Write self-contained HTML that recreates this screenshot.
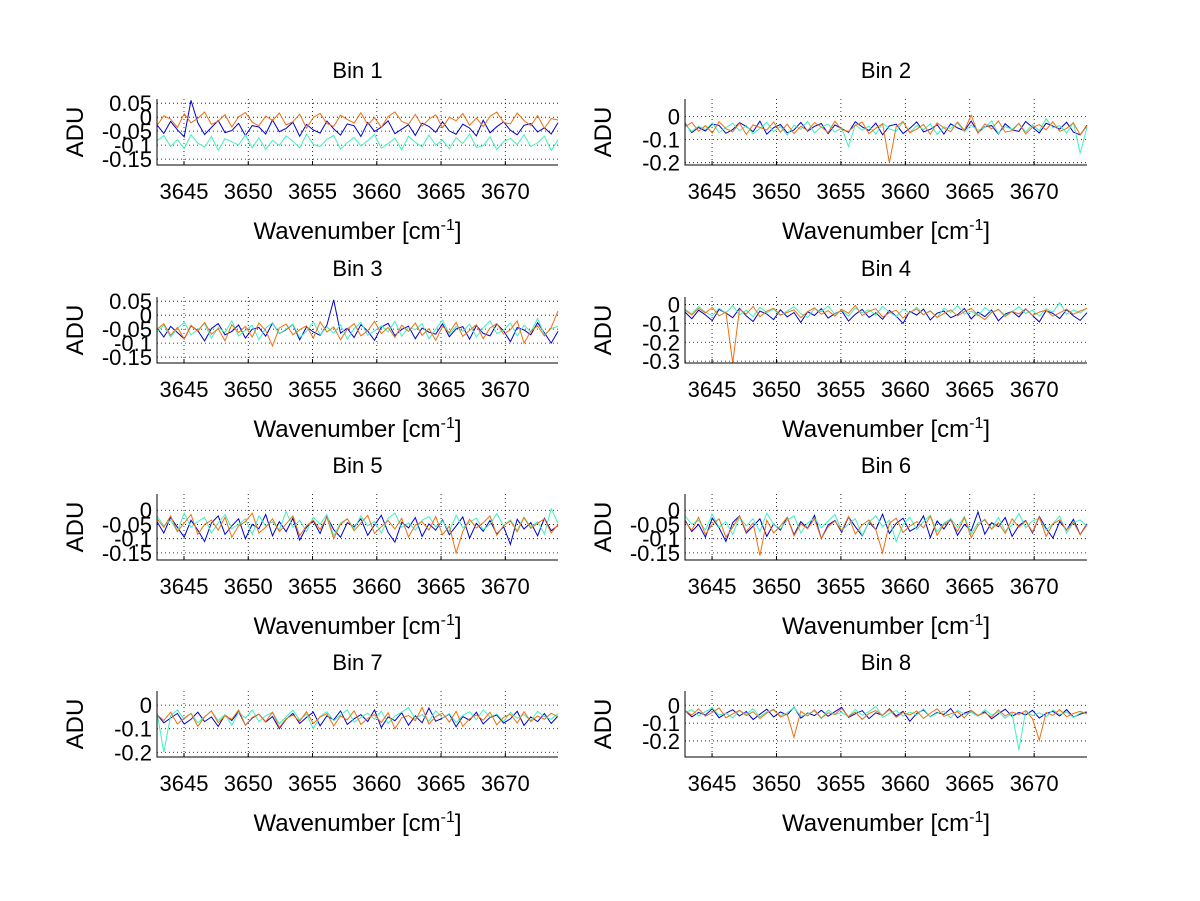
<!DOCTYPE html>
<html><head><meta charset="utf-8"><style>
html,body{margin:0;padding:0;background:#fff;}
svg{display:block;font-family:"Liberation Sans",Arial,sans-serif;}
</style></head><body>
<svg id="fig" width="1200" height="901" viewBox="0 0 1200 901" xmlns="http://www.w3.org/2000/svg">
<rect width="1200" height="901" fill="#fff"/>
</svg>
<script>
const xMin = 3642.9, xMax = 3674.1;
const xTicks = [3645, 3650, 3655, 3660, 3665, 3670];
const binTitles = ["Bin 1","Bin 2","Bin 3","Bin 4","Bin 5","Bin 6","Bin 7","Bin 8"];
const yLims = [[-0.171,0.065],[-0.21,0.075],[-0.171,0.065],[-0.31,0.04],[-0.175,0.057],[-0.175,0.057],[-0.22,0.06],[-0.29,0.08]];
const yTicks = [[0.05,0,-0.05,-0.1,-0.15],[0,-0.1,-0.2],[0.05,0,-0.05,-0.1,-0.15],[0,-0.1,-0.2,-0.3],[0,-0.05,-0.1,-0.15],[0,-0.05,-0.1,-0.15],[0,-0.1,-0.2],[0,-0.1,-0.2]];
const yTickLabels = [["0.05","0","-0.05","-0.1","-0.15"],["0","-0.1","-0.2"],["0.05","0","-0.05","-0.1","-0.15"],["0","-0.1","-0.2","-0.3"],["0","-0.05","-0.1","-0.15"],["0","-0.05","-0.1","-0.15"],["0","-0.1","-0.2"],["0","-0.1","-0.2"]];
// values in milli-ADU, 60 samples across the wavenumber range
const blue = [
[-28,-58,-15,-45,-70,60,-20,-62,-37,-12,-55,-48,-22,-66,-30,-35,-60,-10,-52,-40,-18,-68,-26,-46,-57,-14,-42,-64,-24,-31,-69,-19,-51,-36,-13,-59,-43,-27,-65,-21,-33,-54,-16,-49,-61,-25,-39,-67,-11,-56,-34,-17,-47,-63,-29,-23,-53,-38,-60,-20],
[-30,-70,-48,-63,-33,-39,-73,-57,-27,-44,-66,-21,-77,-49,-35,-71,-59,-26,-64,-43,-31,-75,-37,-53,-69,-23,-46,-61,-29,-79,-41,-34,-74,-52,-24,-67,-56,-36,-76,-32,-50,-62,-20,-70,-45,-40,-76,-32,-58,-65,-22,-47,-72,-30,-42,-55,-25,-68,-80,-38],
[-45,-78,-40,-62,-85,-38,-55,-92,-48,-30,-70,-58,-35,-82,-50,-44,-75,-28,-66,-52,-33,-88,-42,-60,-72,-36,55,-64,-47,-80,-34,-57,-90,-43,-29,-73,-51,-39,-84,-46,-61,-68,-31,-77,-49,-41,-86,-37,-65,-74,-32,-56,-95,-44,-53,-70,-27,-63,-100,-58],
[-40,-75,-30,-55,-85,-25,-45,-70,-20,-60,-90,-35,-50,-80,-28,-65,-42,-95,-38,-58,-22,-72,-48,-33,-88,-52,-26,-68,-44,-78,-31,-62,-100,-36,-56,-24,-82,-46,-34,-70,-54,-21,-76,-40,-64,-29,-86,-50,-37,-66,-23,-58,-92,-32,-47,-74,-27,-60,-84,-43],
[-40,-80,-25,-60,-95,-35,-70,-110,-45,-20,-85,-55,-30,-100,-50,-65,-15,-90,-40,-75,-28,-105,-60,-38,-82,-22,-68,-95,-44,-58,-30,-88,-52,-18,-78,-112,-42,-62,-26,-92,-48,-70,-34,-86,-56,-24,-98,-46,-74,-36,-84,-58,-120,-32,-66,-44,-90,-28,-72,-54],
[-35,-75,-50,-95,-28,-62,-110,-44,-20,-80,-56,-30,-92,-48,-70,-25,-86,-40,-64,-18,-100,-52,-36,-78,-24,-58,-90,-42,-68,-14,-82,-46,-28,-74,-60,-20,-96,-38,-66,-30,-88,-50,-72,-6,-84,-44,-58,-26,-92,-54,-36,-80,-22,-64,-98,-40,-70,-32,-86,-48],
[-40,-75,-55,-35,-80,-60,-30,-70,-50,-90,-42,-65,-28,-85,-55,-38,-72,-48,-100,-60,-35,-78,-52,-30,-88,-45,-62,-25,-82,-58,-40,-70,-20,-95,-50,-66,-32,-85,-45,-75,-12,-68,-55,-38,-92,-48,-64,-30,-80,-52,-42,-76,-58,-26,-86,-50,-70,-36,-78,-46],
[-30,-65,-40,-55,-20,-70,-45,-25,-60,-35,-80,-50,-22,-66,-38,-54,-10,-72,-44,-58,-28,-62,-36,-12,-68,-48,-30,-75,-42,-56,-20,-60,-34,-90,-46,-26,-64,-40,-52,-18,-70,-44,-30,-58,-36,-76,-48,-22,-62,-40,-54,-28,-72,-46,-34,-60,-24,-66,-50,-38]
];
const orange = [
[-30,5,-7,-37,12,-20,-4,18,-26,-14,9,-35,1,17,-18,-31,4,-11,15,-28,-16,11,-39,-1,14,-23,-33,7,-8,-21,16,-27,-2,-36,2,19,-15,-25,10,-32,-7,8,-38,0,-13,13,-29,-3,-34,3,18,-19,-24,15,-12,-30,6,-40,-5,-10],
[-45,-26,-64,-40,-72,-23,-53,-67,-29,-78,-37,-48,-59,-24,-69,-34,-75,-43,-61,-27,-46,-70,-21,-57,-65,-39,-25,-74,-51,-32,-200,-44,-22,-71,-55,-35,-77,-28,-50,-66,-24,-60,5,-73,-33,-54,-20,-68,-62,-30,-76,-47,-36,-58,-23,-65,-52,-28,-79,-41],
[-50,-30,-72,-44,-85,-36,-58,-26,-68,-48,-92,-34,-62,-40,-78,-28,-55,-110,-46,-32,-70,-52,-38,-82,-24,-60,-42,-88,-50,-30,-74,-56,-22,-66,-44,-80,-36,-58,-28,-72,-48,-90,-40,-62,-26,-76,-54,-34,-84,-46,-30,-68,-52,-20,-100,-58,-38,-74,-44,15],
[-30,-55,-20,-45,-15,-60,-40,-310,-25,-50,-10,-65,-35,-20,-55,-42,-28,-70,-38,-18,-52,-32,-62,-26,-46,-5,-58,-36,-22,-66,-44,-30,-72,-40,-24,-54,-34,-68,-48,-28,-60,-38,-20,-56,-80,-42,-26,-64,-36,-50,-22,-58,-40,-30,-62,-44,-24,-52,-34,-20],
[-30,-60,-20,-75,-45,-15,-85,-50,-35,-70,-25,-95,-55,-40,-10,-80,-60,-30,-75,-48,-20,-90,-55,-35,-68,-25,-100,-50,-30,-72,-45,-18,-82,-58,-36,-66,-28,-94,-52,-40,-70,-22,-86,-56,-150,-74,-32,-62,-44,-20,-88,-54,-38,-76,-26,-64,-46,-30,-80,-50],
[-40,-70,-25,-85,-50,-30,-95,-60,-20,-75,-45,-160,-35,-80,-55,-25,-90,-48,-65,-30,-100,-58,-38,-72,-22,-84,-52,-34,-68,-150,-46,-28,-78,-56,-40,-62,-20,-88,-50,-36,-74,-26,-96,-54,-32,-66,-44,-82,-30,-60,-38,-76,-24,-92,-48,-34,-70,-42,-86,-52],
[-40,-65,-30,-80,-55,-35,-90,-50,-25,-75,-45,-60,-20,-85,-52,-38,-70,-30,-95,-58,-42,-68,-28,-78,-50,-36,-88,-46,-62,-24,-82,-56,-40,-74,-32,-100,-54,-44,-66,-10,-80,-48,-34,-72,-26,-90,-58,-42,-64,-30,-84,-52,-38,-76,-28,-70,-46,-60,-34,-50],
[-30,-55,-20,-62,-40,-15,-70,-48,-28,-58,-36,-75,-44,-22,-66,-50,-180,-34,-60,-26,-72,-42,-52,-18,-64,-38,-80,-46,-30,-56,-24,-68,-40,-54,-32,-74,-44,-20,-62,-48,-36,-70,-28,-58,-42,-66,-26,-60,-38,-52,-30,-76,-195,-40,-56,-24,-64,-46,-34,-50]
];
const cyan = [
[-85,-66,-104,-80,-112,-63,-93,-107,-69,-118,-77,-88,-99,-64,-109,-74,-115,-83,-101,-67,-86,-110,-61,-97,-105,-79,-65,-114,-91,-72,-103,-84,-62,-111,-95,-75,-117,-68,-90,-106,-64,-100,-82,-113,-73,-94,-60,-108,-102,-70,-116,-87,-76,-98,-63,-105,-92,-68,-119,-81],
[-35,-65,-42,-58,-28,-70,-48,-30,-62,-40,-75,-52,-26,-66,-44,-80,-38,-56,-22,-72,-46,-34,-68,-50,-130,-36,-60,-42,-76,-30,-54,-64,-24,-70,-40,-58,-32,-78,-46,-52,-28,-66,-38,-60,-48,-20,-74,-44,-56,-30,-68,-36,-62,-10,-50,-40,-72,-26,-160,-46],
[-60,-35,-78,-48,-25,-70,-52,-30,-82,-44,-62,-20,-74,-54,-36,-88,-46,-28,-66,-50,-32,-80,-58,-24,-70,-42,-64,-34,-86,-48,-26,-72,-56,-38,-60,-22,-76,-44,-52,-30,-84,-50,-18,-68,-40,-58,-32,-78,-46,-20,-66,-54,-28,-74,-36,-60,-12,-70,-48,-40],
[-25,-50,-10,-40,-60,-20,-45,-5,-55,-30,-65,-15,-42,-25,-58,-35,-12,-48,-68,-22,-38,-8,-52,-30,-62,-18,-44,-28,-56,-10,-40,-64,-24,-46,-14,-54,-32,-70,-20,-42,-6,-50,-34,-60,-16,-44,-26,-58,-38,-12,-48,-30,-62,-22,-40,10,-52,-28,-46,-18],
[-20,-55,-35,-75,-10,-60,-40,-25,-80,-45,-15,-65,-50,-30,-85,-20,-55,-40,-70,-5,-60,-35,-75,-25,-50,-15,-90,-45,-30,-65,-20,-55,-40,-80,-28,-10,-60,-45,-70,-35,-22,-58,-38,-76,-18,-62,-42,-28,-68,-50,-12,-56,-34,-72,-24,-60,-40,-84,5,-46],
[-20,-50,-35,-70,-15,-60,-40,-85,-25,-55,-30,-75,-10,-50,-65,-35,-20,-80,-45,-28,-62,-38,-15,-72,-48,-30,-88,-42,-20,-58,-35,-110,-50,-25,-68,-40,-18,-76,-46,-30,-60,-22,-84,-44,-36,-66,-26,-74,-52,-12,-62,-38,-28,-70,-48,-20,-80,-44,-34,-56],
[-30,-200,-45,-20,-60,-35,-75,-50,-25,-65,-40,-85,-30,-55,-20,-70,-45,-30,-80,-50,-22,-62,-38,-100,-48,-28,-66,-42,-20,-72,-52,-34,-60,-26,-78,-46,-30,-10,-58,-40,-68,-24,-54,-36,-74,-44,-28,-62,-20,-50,-38,-70,-30,-56,-40,-66,-26,-48,-60,-36],
[-40,-25,-60,-35,-15,-55,-45,-70,-30,-50,-20,-65,-38,-28,-58,-42,-12,-62,-48,-32,-75,-26,-52,-40,-64,-22,-56,-36,-5,-68,-46,-30,-60,-38,-54,-20,-66,-44,-34,-70,-28,-50,-40,-62,-24,-56,-36,-72,-46,-250,-30,-58,-42,-64,-26,-52,-38,-68,-44,-34]
];
const seriesColors = ["#0000d0", "#40f0c0", "#f07010"];
const NS = "http://www.w3.org/2000/svg";
const svg = document.getElementById("fig");
const colsX = [[157,558],[685,1087]];
const rowsY = [99, 297, 494, 691];
const H = 66;
function mk(tag, attrs, parent){
  const e = document.createElementNS(NS, tag);
  for (const k in attrs) e.setAttribute(k, attrs[k]);
  (parent||svg).appendChild(e);
  return e;
}
for (let p = 0; p < 8; p++) {
  const col = p % 2, row = Math.floor(p / 2);
  const x0 = colsX[col][0], x1 = colsX[col][1];
  const y0 = rowsY[row], y1 = y0 + H;
  const [yMin, yMax] = yLims[p];
  const sx = v => x0 + (v - xMin) / (xMax - xMin) * (x1 - x0);
  const sy = v => y1 - (v - yMin) / (yMax - yMin) * (y1 - y0);
  const g = mk("g", {});
  
  
  xTicks.forEach(t => {
    const l = mk("line", {x1:sx(t), x2:sx(t), y1:y0, y2:y1, stroke:"#000", "stroke-width":0.8, "stroke-dasharray":"1,3"}, g);
    
    
  });
  yTicks[p].forEach(t => {
    const l = mk("line", {x1:x0, x2:x1, y1:sy(t), y2:sy(t), stroke:"#000", "stroke-width":0.8, "stroke-dasharray":"1,3"}, g);
    
    
  });
  const sets = [blue[p], cyan[p], orange[p]];
  const names = ["series-blue", "series-cyan", "series-orange"];
  sets.forEach((arr, si) => {
    const n = arr.length;
    const pts = arr.map((v, i) => sx(xMin + i * (xMax - xMin) / (n - 1)).toFixed(1) + "," + sy(v / 1000).toFixed(1)).join(" ");
    const pl = mk("polyline", {points: pts, fill:"none", stroke:seriesColors[si], "stroke-width":1}, g);
    
    
  });
  const ax = mk("path", {d:`M${x0},${y0} V${y1} H${x1}`, fill:"none", stroke:"#000", "stroke-width":1}, g);
  
  
  xTicks.forEach(t => {
    const tx = mk("text", {x:sx(t), y:y1+34, "font-size":22, "text-anchor":"middle", fill:"#000"}, g);
    tx.textContent = String(t);
    
    
    const tk = mk("line", {x1:sx(t), x2:sx(t), y1:y1, y2:y1-4, stroke:"#000"}, g);
    
    
  });
  yTicks[p].forEach((t, i) => {
    const tx = mk("text", {x:x0-5, y:sy(t)+8, "font-size":22, "text-anchor":"end", fill:"#000"}, g);
    tx.textContent = yTickLabels[p][i];
    
    
  });
  const title = mk("text", {x:(x0+x1)/2, y:y0-21, "font-size":22, "text-anchor":"middle", fill:"#000"}, g);
  title.textContent = binTitles[p];
  
  
  const xl = mk("text", {x:(x0+x1)/2, y:y1+74, "font-size":24, "text-anchor":"middle", fill:"#000"}, g);
  xl.innerHTML = 'Wavenumber [cm<tspan dy="-9" font-size="16">-1</tspan><tspan dy="9">]</tspan>';
  
  
  const yl = mk("text", {x:0, y:0, "font-size":24, "text-anchor":"middle", fill:"#000", transform:`translate(${x0-74},${(y0+y1)/2}) rotate(-90)`}, g);
  yl.textContent = "ADU";
  
  
}
</script>
</body></html>
